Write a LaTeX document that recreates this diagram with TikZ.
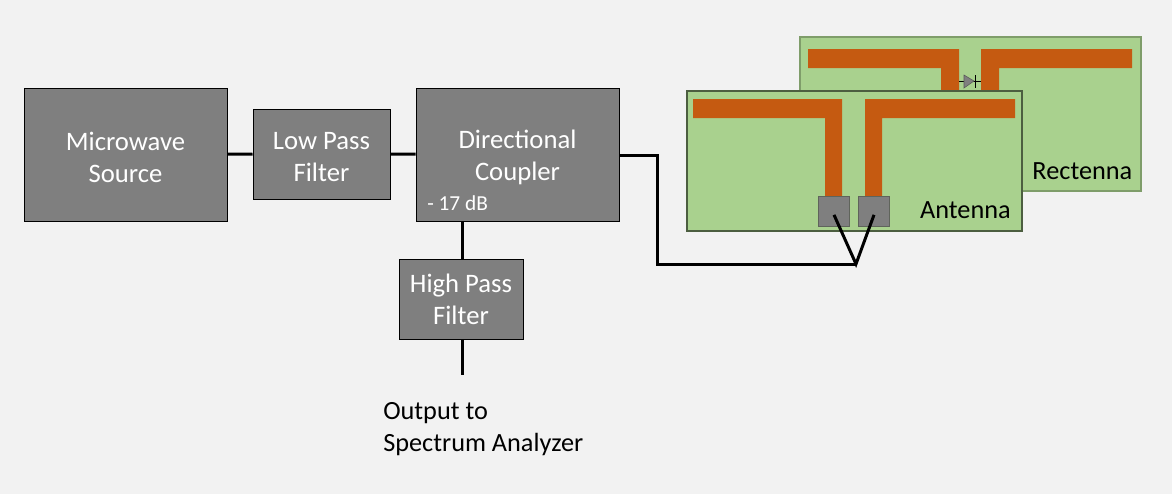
\documentclass[tikz,border=0pt]{standalone}
\usepackage{fontspec}
\setmainfont{Carlito}
\definecolor{bgc}{HTML}{F2F2F2}
\definecolor{boxc}{HTML}{7F7F7F}
\definecolor{boardc}{HTML}{A9D18E}
\definecolor{tracec}{HTML}{C55A11}
\newcommand{\lowr}{\rule{0pt}{18pt}}
\tikzstyle{b} = [rectangle, draw=black, line width=0.75pt, fill=boxc, text=white, align=center, font=\fontsize{20}{24}\selectfont]
\tikzstyle{board} = [rectangle, fill=boardc, inner sep=0pt]
\tikzstyle{pad} = [rectangle, fill=boxc, draw=boxc!80!boardc!70!black, line width=0.75pt, minimum width=23.5pt, minimum height=22pt, inner sep=0pt]
\tikzstyle{t} = [font=\fontsize{19.7}{24}\selectfont, text=black, inner sep=0pt]
\tikzstyle{wire} = [line width=2.25pt, black]
\begin{document}
\begin{tikzpicture}[x=0.75pt,y=-0.75pt]
	\fill[bgc] (0,0) rectangle (1172,494);
	\useasboundingbox (0,0) rectangle (1172,494);
	% rectenna board, behind the antenna
	\node[board,draw=boardc!75!black,line width=1pt,minimum width=255.75pt,minimum height=115.5pt](rect) at (970.5,114){};
	\fill[tracec] (808,49) -- (959,49) -- (959,91) -- (941,91) -- (941,68) -- (808,68) -- cycle;
	\fill[tracec] (1132,49) -- (981,49) -- (981,91) -- (999,91) -- (999,68) -- (1132,68) -- cycle;
	\coordinate (dl) at (959,81);
	\coordinate (dr) at (981,81);
	\draw[black,line width=0.6pt] (dl) -- (dr);
	\draw[black,line width=0.6pt] (975,75) -- (975,88);
	\fill[boxc,draw=boxc!70!black,line width=0.4pt] (964,75) -- (974,81) -- (964,88) -- cycle;
	\node[t,anchor=south east] (rl) at (1132.5,180) {Rectenna};
	% antenna board
	\node[board,draw=boardc!45!black,line width=1pt,minimum width=251.25pt,minimum height=105pt](ant) at (854.5,161){};
	\fill[tracec] (693,99) -- (842,99) -- (842,197) -- (825,197) -- (825,118) -- (693,118) -- cycle;
	\fill[tracec] (1015,99) -- (865,99) -- (865,197) -- (882,197) -- (882,118) -- (1015,118) -- cycle;
	\node[pad](pad1) at (834,211.5){};
	\node[pad](pad2) at (874,211.5){};
	\node[t,anchor=south east] (al) at (1011,219) {Antenna};
	% blocks
	\node[b,minimum width=152.25pt,minimum height=99.75pt](src) at (125.5,154.5){\lowr Microwave\\Source};
	\node[b,minimum width=102.75pt,minimum height=67.5pt](lpf) at (321.5,154){\lowr Low Pass\\Filter};
	\node[b,minimum width=152.25pt,minimum height=99.75pt](dc) at (517.5,154.5){\lowr Directional\\Coupler};
	\node[b,minimum width=93pt,minimum height=60pt](hpf) at (461,299){High Pass\\Filter};
	\node[anchor=west,text=white,inner sep=0pt,font=\fontsize{16}{16}\selectfont](att) at (427,203){- 17 dB};
	\coordinate (out) at (462.5,375);
	\coordinate (c1) at (657,155);
	\coordinate (feed) at (856,264);
	\node[t,anchor=north west,align=left](lab) at (383,402){Output to\\Spectrum Analyzer};
	% wires
	\draw[wire] (src)--(lpf);
	\draw[wire] (lpf)--(dc);
	\draw[wire] (out |- dc.south)--(out |- hpf.north);
	\draw[wire] (out |- hpf.south)--(out);
	\draw[wire] (dc.east |- c1)--(c1)|-(feed);
	\draw[wire,line join=miter] ([yshift=-2.5pt]pad1.center)--(feed)--([yshift=-2.5pt]pad2.center);
\end{tikzpicture}
\end{document}
